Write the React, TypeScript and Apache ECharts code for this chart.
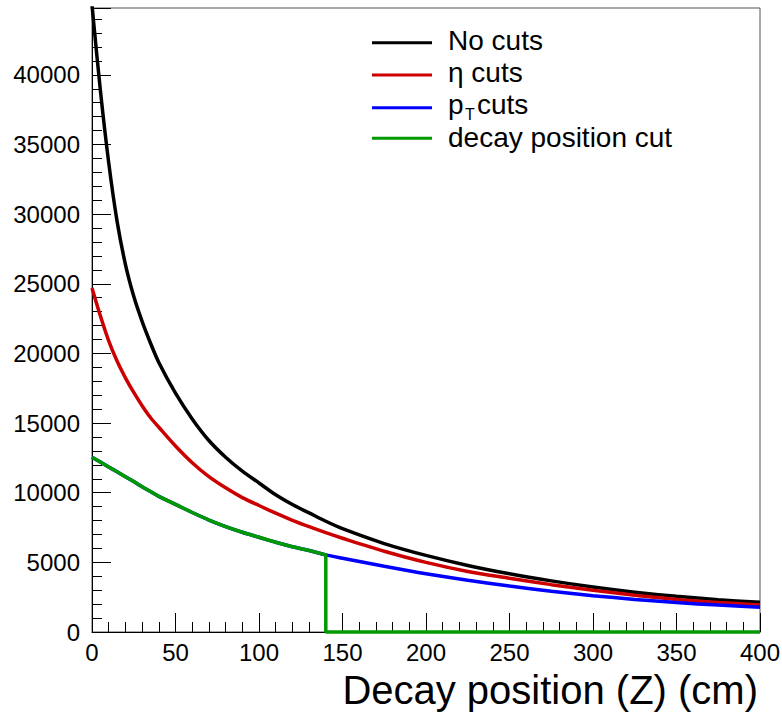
import React, { useEffect, useRef } from "react";
import * as echarts from "echarts";

// Decay position (Z, cm) sample points
const zPositions = [0, 5, 10, 15, 20, 25, 30, 35, 40, 50, 60, 70, 80, 90, 100, 110, 120, 130, 140, 150, 175, 200, 225, 250, 275, 300, 325, 350, 375, 400];

// Entries per bin
const noCuts = [45000, 38900, 33700, 29500, 26400, 24100, 22300, 20750, 19350, 17150, 15300, 13750, 12550, 11550, 10700, 9850, 9150, 8550, 7950, 7420, 6350, 5500, 4780, 4180, 3670, 3230, 2860, 2560, 2320, 2130];
const etaCuts = [24700, 22700, 20900, 19450, 18250, 17200, 16250, 15400, 14700, 13350, 12150, 11150, 10350, 9650, 9080, 8530, 8020, 7560, 7130, 6730, 5800, 5000, 4350, 3860, 3400, 3000, 2640, 2340, 2120, 1940];
const ptCuts = [12550, 12200, 11850, 11500, 11150, 10800, 10430, 10080, 9740, 9160, 8580, 8040, 7570, 7160, 6800, 6440, 6120, 5850, 5540, 5300, 4720, 4180, 3720, 3300, 2930, 2610, 2340, 2110, 1930, 1775];
const decayCut = [12550, 12200, 11850, 11500, 11150, 10800, 10430, 10080, 9740, 9160, 8580, 8040, 7570, 7160, 6800, 6440, 6120, 5850, 5540];
const decayCutEdge = 140;

const yTicks = [0, 5000, 10000, 15000, 20000, 25000, 30000, 35000, 40000];
const xTicks = [0, 50, 100, 150, 200, 250, 300, 350, 400];

const legendNames = ["No cuts", "η cuts", "p_T cuts", "decay position cut"];
const colors = ["#000000", "#cc0000", "#0000ff", "#009900"];

const FONT = "'Liberation Sans', Arial, Helvetica, sans-serif";

export default function App() {
  const ref = useRef<HTMLDivElement>(null);

  useEffect(() => {
    if (!ref.current) return;
    const chart = echarts.init(ref.current, null, { renderer: "svg" });

    const pairs = (vals: number[]) => vals.map((v, i) => [zPositions[i], v]);
    const greenData: number[][] = decayCut.map((v, i) => [zPositions[i], v]);
    greenData.push([decayCutEdge, 0]);
    greenData.push([zPositions[zPositions.length - 1], 0]);

    const lineSeries = (name: string, data: number[][], color: string, extra: any = {}) => ({
      type: "line",
      name,
      data,
      showSymbol: false,
      symbol: "none",
      lineStyle: { color, width: 3.5 },
      itemStyle: { color },
      ...extra,
    });

    const legendLineY = [42.7, 75, 107.7, 138.3];
    const legendGraphics: any[] = [];
    legendLineY.forEach((y, i) => {
      legendGraphics.push({
        type: "line",
        shape: { x1: 372, y1: y, x2: 432, y2: y },
        style: { stroke: colors[i], lineWidth: 3 },
      });
    });
    const textStyle = (text: string, x: number, y: number, size = 28) => ({
      type: "text",
      x,
      y,
      style: {
        text,
        fontSize: size,
        fontFamily: FONT,
        fill: "#000",
        textAlign: "left",
        textVerticalAlign: "middle",
      },
    });
    legendGraphics.push(textStyle(legendNames[0], 448, 40.5));
    legendGraphics.push(textStyle(legendNames[1], 448, 72.5));
    legendGraphics.push(textStyle("p", 448, 104.5));
    legendGraphics.push(textStyle("T", 465, 114, 16));
    legendGraphics.push(textStyle("cuts", 477, 104.5));
    legendGraphics.push(textStyle(legendNames[3], 448, 137.5));

    chart.setOption({
      animation: false,
      backgroundColor: "#ffffff",
      grid: {
        left: 92,
        right: 22,
        top: 8,
        bottom: 80,
        show: true,
        borderColor: "#555",
        borderWidth: 1,
        containLabel: false,
        outerBoundsMode: "none",
      },
      xAxis: {
        type: "value",
        min: xTicks[0],
        max: xTicks[xTicks.length - 1],
        interval: 50,
        axisLine: { show: true, lineStyle: { color: "#000", width: 1 } },
        axisTick: { show: true, inside: true, length: 19, lineStyle: { color: "#000" } },
        minorTick: { show: true, splitNumber: 5, length: 10, lineStyle: { color: "#000" } },
        splitLine: { show: false },
        axisLabel: { fontSize: 24, color: "#000", margin: 8, fontFamily: FONT },
      },
      yAxis: {
        type: "value",
        min: yTicks[0],
        max: 44800,
        interval: 5000,
        axisLine: { show: true, lineStyle: { color: "#000", width: 1 } },
        axisTick: { show: true, inside: true, length: 19, lineStyle: { color: "#000" } },
        minorTick: { show: true, splitNumber: 5, length: 10, lineStyle: { color: "#000" } },
        splitLine: { show: false },
        axisLabel: {
          fontSize: 24,
          color: "#000",
          margin: 12,
          fontFamily: FONT,
          showMaxLabel: false,
          formatter: (v: number) => String(v),
        },
      },
      graphic: [
        ...legendGraphics,
        {
          type: "text",
          x: 758,
          y: 690,
          style: {
            text: "Decay position (Z) (cm)",
            fontSize: 40,
            fontFamily: FONT,
            fill: "#000",
            textAlign: "right",
            textVerticalAlign: "middle",
          },
        },
      ],
      series: [
        lineSeries(legendNames[0], pairs(noCuts), colors[0], { smooth: 0.3, z: 2 }),
        lineSeries(legendNames[1], pairs(etaCuts), colors[1], { smooth: 0.3, z: 3 }),
        lineSeries(legendNames[2], pairs(ptCuts), colors[2], { smooth: 0.3, z: 4 }),
        lineSeries(legendNames[3], greenData, colors[3], { clip: false, z: 5 }),
      ],
    });

    return () => chart.dispose();
  }, []);

  return (
    <div
      ref={ref}
      style={{ position: "fixed", left: 0, top: 0, width: 782, height: 712, background: "#fff" }}
    />
  );
}
